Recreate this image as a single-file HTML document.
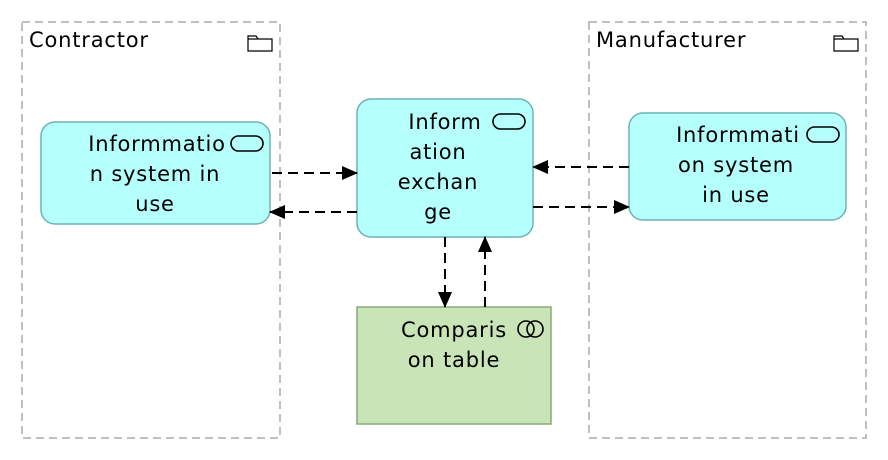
<!DOCTYPE html>
<html><head><style>body{margin:0;background:#fff}svg{display:block}text{font-family:"DejaVu Sans",sans-serif;font-size:21px;letter-spacing:0.8px;fill:#000}</style></head>
<body>
<svg width="888" height="460" viewBox="0 0 888 460">
<defs><marker id="a" markerWidth="16" markerHeight="14" refX="15" refY="7" orient="auto" markerUnits="userSpaceOnUse"><path d="M0,0 L16,7 L0,14 z" fill="#000"/></marker></defs>
<rect x="22" y="22" width="258" height="416" fill="none" stroke="#aaa" stroke-width="1.5" stroke-dasharray="8,5"/>
<rect x="589" y="22" width="277" height="416" fill="none" stroke="#aaa" stroke-width="1.5" stroke-dasharray="8,5"/>
<text x="29" y="47">Contractor</text>
<text x="596" y="47">Manufacturer</text>
<path d="M248,36 h8 l2,3 h14 v12 h-24 z M248,39 h10" fill="none" stroke="#000" stroke-width="1.2"/>
<path d="M834,36 h8 l2,3 h14 v12 h-24 z M834,39 h10" fill="none" stroke="#000" stroke-width="1.2"/>
<rect x="41" y="122" width="229" height="102" rx="14" fill="#b5fffd" stroke="#6cb2b3" stroke-width="1.5"/>
<rect x="357" y="99" width="176" height="138" rx="14" fill="#b5fffd" stroke="#6cb2b3" stroke-width="1.5"/>
<rect x="629" y="113" width="217" height="107" rx="14" fill="#b5fffd" stroke="#6cb2b3" stroke-width="1.5"/>
<rect x="357" y="307" width="194" height="117" fill="#c9e5b8" stroke="#8aa87a" stroke-width="1.5"/>
<rect x="231" y="136" width="32" height="15" rx="7.5" fill="none" stroke="#000" stroke-width="1.6"/>
<rect x="493" y="114" width="32" height="15" rx="7.5" fill="none" stroke="#000" stroke-width="1.6"/>
<rect x="807" y="127" width="32" height="15" rx="7.5" fill="none" stroke="#000" stroke-width="1.6"/>
<circle cx="526" cy="329" r="8" fill="none" stroke="#000" stroke-width="1.6"/><circle cx="535" cy="329" r="8" fill="none" stroke="#000" stroke-width="1.6"/>
<text text-anchor="middle"><tspan x="157" y="151">Informmatio</tspan><tspan x="155" y="181">n system in</tspan><tspan x="155" y="211">use</tspan></text>
<text text-anchor="middle"><tspan x="445" y="129">Inform</tspan><tspan x="438" y="159">ation</tspan><tspan x="438" y="189">exchan</tspan><tspan x="438" y="219">ge</tspan></text>
<text text-anchor="middle"><tspan x="738" y="142">Informmati</tspan><tspan x="736" y="172">on system</tspan><tspan x="736" y="202">in use</tspan></text>
<text text-anchor="middle"><tspan x="454" y="337">Comparis</tspan><tspan x="454" y="367">on table</tspan></text>
<g stroke="#000" stroke-width="2" stroke-dasharray="10,6" fill="none">
<line x1="272" y1="173" x2="357" y2="173" marker-end="url(#a)"/>
<line x1="357" y1="212" x2="270" y2="212" marker-end="url(#a)"/>
<line x1="629" y1="167" x2="533" y2="167" marker-end="url(#a)"/>
<line x1="533" y1="207" x2="629" y2="207" marker-end="url(#a)"/>
<line x1="445" y1="237" x2="445" y2="307" marker-end="url(#a)"/>
<line x1="485" y1="307" x2="485" y2="237" marker-end="url(#a)"/>
</g>
</svg>
</body></html>
